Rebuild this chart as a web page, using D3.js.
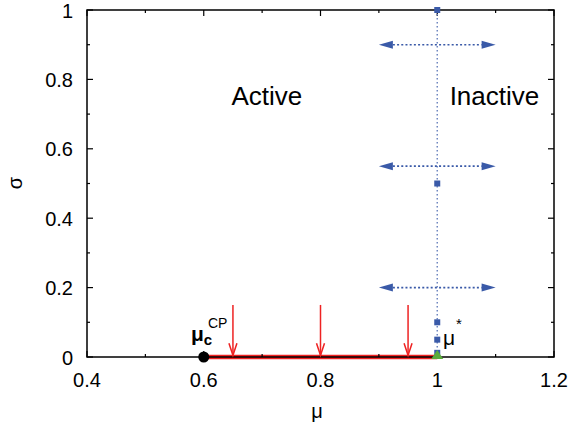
<!DOCTYPE html>
<html><head><meta charset="utf-8">
<script src="https://cdn.jsdelivr.net/npm/d3@7"></script>
<style>body{margin:0;background:#fff}svg{display:block}text{font-family:"Liberation Sans",Arial,Helvetica,sans-serif}</style>
</head><body>
<svg id="c" width="573" height="429"></svg>
<script>
const xTicks = [0.4, 0.6, 0.8, 1, 1.2];
const yTicks = [0, 0.2, 0.4, 0.6, 0.8, 1];
const xMinor = [0.5, 0.7, 0.9, 1.1];
const yMinor = [0.1, 0.3, 0.5, 0.7, 0.9];
const squaresMu = [1, 1, 1, 1, 1];
const squaresSigma = [1, 0.5, 0.1, 0.05, 0.012];
const hArrowSigma = [0.9, 0.55, 0.2];
const hArrowMu = [0.9, 1.1];
const redArrowMu = [0.65, 0.8, 0.95];
const redArrowSigma = [0.15, 0.005];
const activeSegment = [0.6, 1];
const criticalPoint = [0.6, 0];
const starPoint = [1, 0];
const regionLabels = [{t:"Active", mu:0.708}, {t:"Inactive", mu:1.098}];

const svg = d3.select("#c");
const L=87, R=554, T=10, B=357;
const x = d3.scaleLinear().domain([0.4,1.2]).range([L,R]);
const y = d3.scaleLinear().domain([0,1]).range([B,T]);
const blue="#3a5aa8", red="#ee2222";

// red thick segment
svg.append("line").attr("x1",x(activeSegment[0])).attr("x2",x(activeSegment[1]))
  .attr("y1",y(0)).attr("y2",y(0)).attr("stroke",red).attr("stroke-width",4.5);

// frame
svg.append("rect").attr("x",L).attr("y",T).attr("width",R-L).attr("height",B-T)
  .attr("fill","none").attr("stroke","#000").attr("stroke-width",1.5);

// ticks
const tk = svg.append("g").attr("stroke","#000").attr("stroke-width",1.2);
xTicks.forEach(v=>{tk.append("line").attr("x1",x(v)).attr("x2",x(v)).attr("y1",B).attr("y2",B-6);
  tk.append("line").attr("x1",x(v)).attr("x2",x(v)).attr("y1",T).attr("y2",T+6);});
xMinor.forEach(v=>{tk.append("line").attr("x1",x(v)).attr("x2",x(v)).attr("y1",B).attr("y2",B-3);
  tk.append("line").attr("x1",x(v)).attr("x2",x(v)).attr("y1",T).attr("y2",T+3);});
yTicks.forEach(v=>{tk.append("line").attr("x1",L).attr("x2",L+6).attr("y1",y(v)).attr("y2",y(v));
  tk.append("line").attr("x1",R).attr("x2",R-6).attr("y1",y(v)).attr("y2",y(v));});
yMinor.forEach(v=>{tk.append("line").attr("x1",L).attr("x2",L+3).attr("y1",y(v)).attr("y2",y(v));
  tk.append("line").attr("x1",R).attr("x2",R-3).attr("y1",y(v)).attr("y2",y(v));});

// tick labels
xTicks.forEach(v=>svg.append("text").attr("x",x(v)).attr("y",387).attr("text-anchor","middle")
  .attr("font-size",20).text(d3.format("")(v)));
yTicks.forEach(v=>svg.append("text").attr("x",73).attr("y",y(v)+7.5).attr("text-anchor","end")
  .attr("font-size",20).text(d3.format("")(v)));

// axis titles
svg.append("text").attr("x",317).attr("y",418).attr("text-anchor","middle").attr("font-size",20).text("μ");
svg.append("text").attr("transform","translate(22,183) rotate(-90)").attr("text-anchor","middle").attr("font-size",20).text("σ");

// vertical dotted line
svg.append("line").attr("x1",x(1)).attr("x2",x(1)).attr("y1",y(1)).attr("y2",y(0))
  .attr("stroke","#6f86c0").attr("stroke-width",1.5).attr("stroke-dasharray","1.5,2.5");

// horizontal double arrows
function arrowHead(g, tipX, yy, dir){
  const len=14, hw=4;
  g.append("path").attr("d",`M${tipX},${yy} L${tipX+dir*len},${yy-hw} L${tipX+dir*len},${yy+hw}Z`)
   .attr("fill",blue);
}
hArrowSigma.forEach(s=>{
  const g = svg.append("g");
  g.append("line").attr("x1",x(hArrowMu[0])+14).attr("x2",x(hArrowMu[1])-14).attr("y1",y(s)).attr("y2",y(s))
   .attr("stroke",blue).attr("stroke-width",1.6).attr("stroke-dasharray","2,2.2");
  arrowHead(g, x(hArrowMu[0]), y(s), 1);
  arrowHead(g, x(hArrowMu[1]), y(s), -1);
});

// red vertical arrows
redArrowMu.forEach(m=>{
  const x0=x(m), y0=y(redArrowSigma[0]), y1=y(redArrowSigma[1]);
  svg.append("line").attr("x1",x0).attr("x2",x0).attr("y1",y0).attr("y2",y1-1).attr("stroke",red).attr("stroke-width",1.5);
  svg.append("path").attr("d",`M${x0-4},${y1-12} L${x0},${y1} L${x0+4},${y1-12}`).attr("fill","none")
   .attr("stroke",red).attr("stroke-width",1.5);
});

// blue squares
squaresSigma.forEach((s,i)=>svg.append("rect").attr("x",x(squaresMu[i])-3).attr("y",y(s)-3)
  .attr("width",6).attr("height",6).attr("fill",blue));

// green triangle
svg.append("path").attr("d",`M${x(starPoint[0])},${y(starPoint[1])-7} L${x(starPoint[0])+6},${y(starPoint[1])+2} L${x(starPoint[0])-6},${y(starPoint[1])+2}Z`)
  .attr("fill","#5aaa3a");

// critical point
svg.append("circle").attr("cx",x(criticalPoint[0])).attr("cy",y(criticalPoint[1])).attr("r",5.5).attr("fill","#000");

// region labels
regionLabels.forEach(d=>svg.append("text").attr("x",x(d.mu)).attr("y",105).attr("text-anchor","middle")
  .attr("font-size",26).text(d.t));

// mu_c^CP
const t1 = svg.append("text").attr("x",191).attr("y",341).attr("font-size",21).attr("font-weight","bold");
t1.append("tspan").text("μ");
t1.append("tspan").attr("font-size",15).attr("dy",4).text("c");
svg.append("text").attr("x",208).attr("y",328).attr("font-size",14).text("CP");
// mu*
svg.append("text").attr("x",443).attr("y",345).attr("font-size",21).text("μ");
svg.append("text").attr("x",456).attr("y",329).attr("font-size",15).text("*");
</script>
</body></html>
